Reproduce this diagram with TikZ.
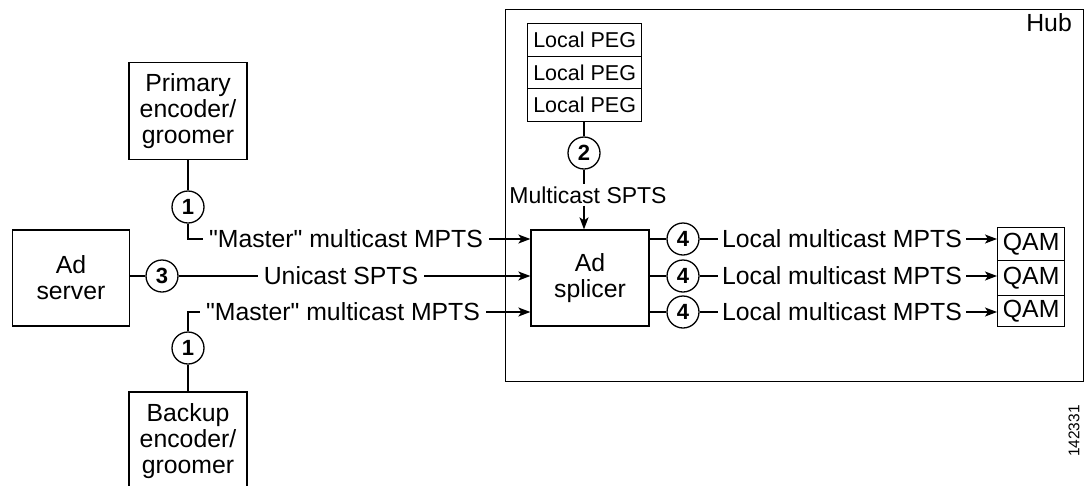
\documentclass[tikz,border=0pt]{standalone}
\usepackage{fontspec}
\newfontfamily\hv{Liberation Sans}
\usetikzlibrary{arrows.meta}
\tikzset{
  base/.style={font=\hv\fontsize{24.8}{26}\selectfont},
  box/.style={base, draw, line width=1.3pt, align=center, inner sep=0pt},
  cell/.style={draw, line width=1.3pt, inner sep=0pt, anchor=north west},
  pegcell/.style={cell, minimum width=114pt, font=\hv\fontsize{21.5}{24}\selectfont},
  qamcell/.style={cell, base, minimum width=67pt},
  num/.style={circle, draw, line width=1.3pt, minimum size=32pt, inner sep=0pt,
              font=\hv\fontsize{22}{24}\bfseries\selectfont},
  lbl/.style={base, inner xsep=6pt, inner ysep=0pt},
  wire/.style={line width=1.3pt},
  arr/.style={wire, -{Stealth[length=12pt,width=9pt,inset=3pt]}},
}
\begin{document}
\begin{tikzpicture}[x=1pt,y=-1pt]
\useasboundingbox (0,0) rectangle (1087,485);
\clip (0,0) rectangle (1087,485);

% hub enclosure
\node[draw, line width=1.3pt, minimum width=578pt, minimum height=372pt, anchor=north west, inner sep=0pt] (hub) at (505,9) {};
\node[base, anchor=east, inner sep=0pt] (hublbl) at (1072,23) {Hub};

% local PEG stack
\node[pegcell, minimum height=33pt] (peg1) at (527,23) {Local PEG};
\node[pegcell, minimum height=32pt] (peg2) at (527,56) {Local PEG};
\node[pegcell, minimum height=33pt] (peg3) at (527,88) {Local PEG};
\node[num] (c2) at (584,153) {2};
\node[base, font=\hv\fontsize{23}{26}\selectfont, inner sep=2pt] (mspts) at (588,195) {Multicast SPTS};

% ad splicer
\node[box, minimum width=118pt, minimum height=96pt] (sp) at (590,278) {Ad\\splicer};

% source boxes
\node[box, minimum width=118pt, minimum height=97pt] (prim) at (188,111) {Primary\\encoder/\\groomer};
\node[box, minimum width=117pt, minimum height=96pt] (ads) at (71,278) {Ad\\server};
\node[box, minimum width=118pt, minimum height=98pt] (back) at (188,441) {Backup\\encoder/\\groomer};

\node[num] (c1a) at (188,207) {1};
\node[num] (c3) at (162,276) {3};
\node[num] (c1b) at (188,348) {1};

\node[lbl] (m1) at (346,239) {"Master" multicast MPTS};
\node[lbl] (uni) at (341,276) {Unicast SPTS};
\node[lbl] (m2) at (343,312) {"Master" multicast MPTS};

% QAM stack
\node[qamcell, minimum height=33pt] (q1) at (997,227) {QAM};
\node[qamcell, minimum height=35pt] (q2) at (997,260) {QAM};
\node[qamcell, minimum height=31pt] (q3) at (997,295) {QAM};

\node[num] (c4a) at (683,239) {4};
\node[num] (c4b) at (683,276) {4};
\node[num] (c4c) at (683,312) {4};
\node[lbl, inner xsep=4pt] (l1) at (842,239) {Local multicast MPTS};
\node[lbl, inner xsep=4pt] (l2) at (842,276) {Local multicast MPTS};
\node[lbl, inner xsep=4pt] (l3) at (842,312) {Local multicast MPTS};

% PEG to splicer
\draw[wire] (peg3.south -| c2) -- (c2.north);
\draw[wire] (c2.south) -- (c2.south |- mspts.north);
\draw[arr] (mspts.south -| c2) -- (sp.north -| c2);

% inputs to splicer
\draw[wire] (prim.south -| c1a) -- (c1a.north);
\draw[wire] (c1a.south) |- (m1.west);
\draw[arr] (m1.east) -- (sp.west |- m1);

\draw[wire] (ads.east |- c3) -- (c3.west);
\draw[wire] (c3.east) -- (uni.west);
\draw[arr] (uni.east) -- (sp.west |- uni);

\draw[wire] (back.north -| c1b) -- (c1b.south);
\draw[wire] (c1b.north) |- (m2.west);
\draw[arr] (m2.east) -- (sp.west |- m2);

% splicer outputs to QAMs
\foreach \c/\l/\q in {c4a/l1/q1, c4b/l2/q2, c4c/l3/q3}{
  \draw[wire] (sp.east |- \c) -- (\c.west);
  \draw[wire] (\c.east) -- (\l.west);
  \draw[arr] (\l.east) -- (\q.west |- \l);
}

% figure number
\node[font=\hv\fontsize{15.5}{18}\selectfont, rotate=90, inner sep=0pt] (fig) at (1074,431) {142331};
\end{tikzpicture}
\end{document}
